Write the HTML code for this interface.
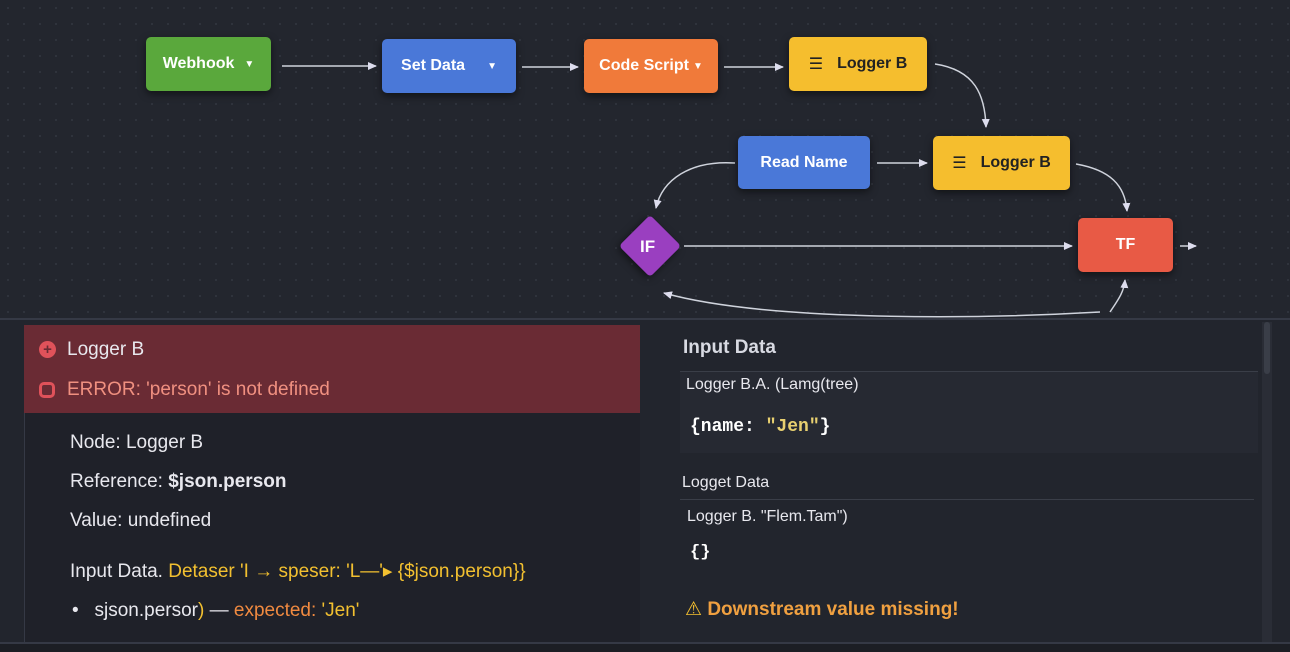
<!DOCTYPE html>
<html><head><meta charset="utf-8"><style>
*{margin:0;padding:0;box-sizing:border-box}
body{width:1290px;height:652px;overflow:hidden;background:#22252d;font-family:"Liberation Sans","DejaVu Sans",sans-serif;position:relative}
.canvas{position:absolute;left:0;top:0;width:1290px;height:318px;background-color:#23262e;background-image:radial-gradient(#30343d 1px,transparent 1.2px);background-size:16px 16px}
.node{position:absolute;border-radius:5px;color:#fff;font-weight:bold;font-size:16px;display:flex;align-items:center;justify-content:center;box-shadow:0 3px 8px rgba(0,0,0,.5)}
.t{position:absolute;white-space:nowrap}
</style></head><body>
<div class="canvas"></div>
<svg style="position:absolute;left:0;top:0" width="1290" height="318">
<defs><marker id="a" markerWidth="10" markerHeight="10" refX="8" refY="5" orient="auto" markerUnits="userSpaceOnUse"><path d="M0,1 L9,5 L0,9z" fill="#dde"/></marker></defs>
<g stroke="#cfd3dc" stroke-width="1.5" fill="none" marker-end="url(#a)">
<path d="M282,66 L376,66"/>
<path d="M522,67 L578,67"/>
<path d="M724,67 L783,67"/>
<path d="M935,64 C975,70 985,95 986,127"/>
<path d="M877,163 L927,163"/>
<path d="M1076,164 C1110,170 1125,185 1127,211"/>
<path d="M735,163 C690,160 662,180 656,208"/>
<path d="M684,246 L1072,246"/>
<path d="M1180,246 L1196,246"/>
<path d="M1110,312 C1118,300 1124,292 1125,280"/>
<path d="M1100,312 C960,320 760,320 664,293"/>
</g></svg>
<div class="node" style="left:146px;top:37px;width:125px;height:54px;background:#5aa83c">Webhook <span style="font-size:10px;margin-left:10px">▼</span></div>
<div class="node" style="left:382px;top:39px;width:134px;height:54px;background:#4a78d8">Set Data <span style="font-size:10px;margin-left:22px">▼</span></div>
<div class="node" style="left:584px;top:39px;width:134px;height:54px;background:#f07a3a">Code Script <span style="font-size:10px;margin-left:4px">▼</span></div>
<div class="node" style="left:789px;top:37px;width:138px;height:54px;background:#f5be2e;color:#222"><span style="margin-right:14px">☰</span>Logger B</div>
<div class="node" style="left:738px;top:136px;width:132px;height:53px;background:#4a78d8">Read Name</div>
<div class="node" style="left:933px;top:136px;width:137px;height:54px;background:#f5be2e;color:#222"><span style="margin-right:14px">☰</span>Logger B</div>
<div class="node" style="left:628px;top:224px;width:44px;height:44px;background:#9a3fc0;transform:rotate(45deg);border-radius:4px"></div>
<div class="t" style="left:640px;top:237px;color:#fff;font-weight:bold;font-size:17px">IF</div>
<div class="node" style="left:1078px;top:218px;width:95px;height:54px;background:#e85a45">TF</div>
<div style="position:absolute;left:0;top:318px;width:1290px;height:2px;background:#353945"></div>
<div style="position:absolute;left:24px;top:325px;width:616px;height:318px;background:#1f2129;border-left:1px solid #353945"></div>
<div style="position:absolute;left:24px;top:325px;width:616px;height:88px;background:#6a2b34"></div>
<div style="position:absolute;left:39px;top:341px;width:17px;height:17px;border-radius:50%;background:#e0525a;color:#6a2b34;font-size:15px;font-weight:bold;text-align:center;line-height:17px">+</div>
<div class="t" style="left:67px;top:339px;color:#e8e8ee;font-size:19px">Logger B</div>
<div style="position:absolute;left:39px;top:382px;width:16px;height:16px;border-radius:5px;border:3px solid #e0525a"></div>
<div class="t" style="left:67px;top:379px;color:#f09080;font-size:19px">ERROR: 'person' is not defined</div>
<div class="t" style="left:70px;top:432px;color:#e8e8ee;font-size:19px">Node: Logger B</div>
<div class="t" style="left:70px;top:471px;color:#e8e8ee;font-size:19px">Reference: <b>$json.person</b></div>
<div class="t" style="left:70px;top:510px;color:#e8e8ee;font-size:19px">Value: undefined</div>
<div class="t" style="left:70px;top:560px;color:#e8e8ee;font-size:19px">Input Data. <span style="color:#f2c030">Detaser 'I → speser: 'L—'▸ {$json.person}}</span></div>
<div class="t" style="left:72px;top:600px;color:#e8e8ee;font-size:19px">•&nbsp;&nbsp; sjson.persor<span style="color:#f2c030">)</span> — <span style="color:#f08a40">expected: </span><span style="color:#f2c030">'Jen'</span></div>
<div style="position:absolute;left:1262px;top:322px;width:10px;height:320px;background:#2a2d36"></div>
<div style="position:absolute;left:1264px;top:322px;width:6px;height:52px;background:#3a3e48;border-radius:3px"></div>
<div class="t" style="left:683px;top:337px;color:#d8dae2;font-size:19px;font-weight:bold">Input Data</div>
<div style="position:absolute;left:680px;top:371px;width:578px;height:82px;background:#262932;border-top:1px solid #3a3e48"></div>
<div class="t" style="left:686px;top:376px;color:#e8e8ee;font-size:16px">Logger B.A. (Lamg(tree)</div>
<div class="t" style="left:690px;top:417px;color:#fff;font-size:18px;font-weight:bold;font-family:'Liberation Mono',monospace">{name: <span style="color:#e8d070">"Jen"</span>}</div>
<div class="t" style="left:682px;top:474px;color:#e8e8ee;font-size:16px">Logget Data</div>
<div style="position:absolute;left:680px;top:499px;width:574px;height:68px;background:#22252d;border-top:1px solid #3a3e48"></div>
<div class="t" style="left:687px;top:508px;color:#e8e8ee;font-size:16px">Logger B. "Flem.Tam")</div>
<div class="t" style="left:690px;top:543px;color:#fff;font-size:17px;font-weight:bold;font-family:'Liberation Mono',monospace">{}</div>
<div class="t" style="left:685px;top:598px;color:#f0a040;font-size:19px;font-weight:bold"><span style="color:#f5c030">⚠</span> Downstream value missing!</div>
<div style="position:absolute;left:0;top:642px;width:1290px;height:10px;background:#1c1e24;border-top:2px solid #353945"></div>
</body></html>
